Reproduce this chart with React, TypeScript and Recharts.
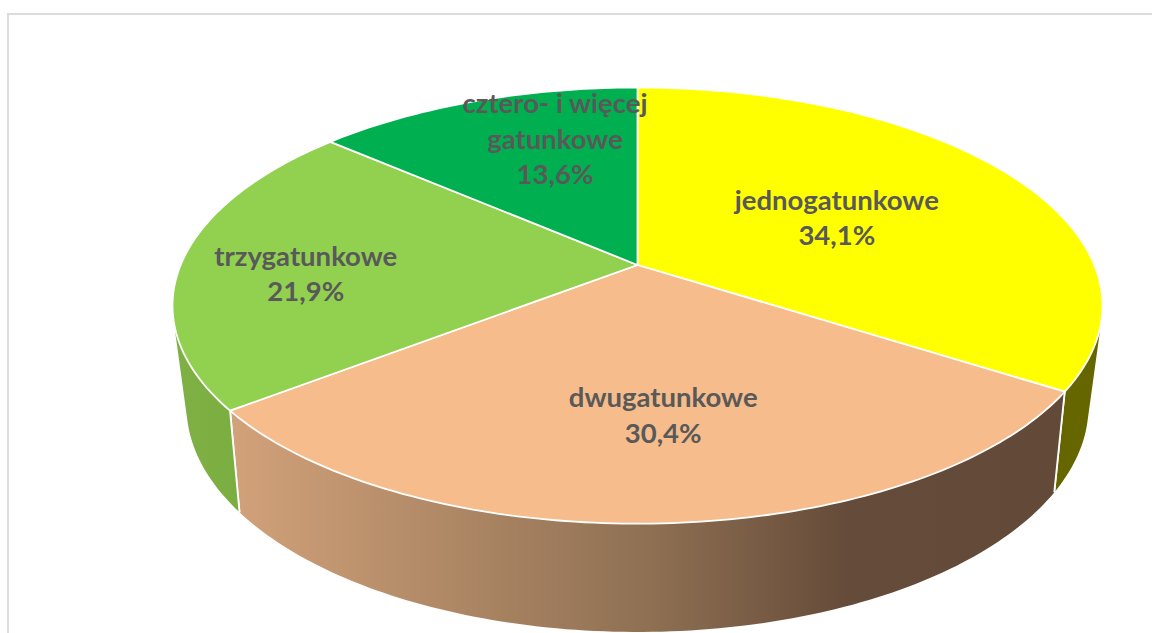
import React from "react";
import { PieChart, Pie } from "recharts";

const categories = ["jednogatunkowe", "dwugatunkowe", "trzygatunkowe", "cztero- i więcej\ngatunkowe"];
const shares = [34.1, 30.4, 21.9, 13.6];
const topColors = ["#FFFF00", "#F6BC8B", "#92D050", "#00B050"];
const wallColors = ["#666600", "url(#wallPeach)", "url(#wallGreen)", "#00702F"];
const labelRadiusFactor = [0.52, 0.63, 0.722, 0.69];
const labelAngleShift = [0, -2, -4.6, 7.4];
const labelLift = [2, 0, 0, -3];

const table = categories.map((name, i) => ({ name, value: shares[i], fill: topColors[i], wall: wallColors[i] }));

// perspective projection of the flat pie onto the tilted top and bottom faces
const project = (cx: number, cy: number, r: number, clockDeg: number, rho: number, face: "top" | "bottom") => {
  const t = (clockDeg * Math.PI) / 180;
  const x = Math.sin(t) * rho;
  const y = -Math.cos(t) * rho;
  const top = face === "top";
  const a = top ? 0.186 : 0.2;
  const rx = top ? r : r * 0.97;
  const ry = r * (top ? 0.469 : 0.486);
  const cey = cy + (top ? r * 0.0873 : r * 0.3032);
  const d = 1 - a * y;
  return [cx + (rx * x * Math.sqrt(1 - a * a)) / d, cey + (ry * (y - a)) / d];
};

const arc = (p: any, face: "top" | "bottom") => {
  const s = 90 - p.startAngle;
  const e = 90 - p.endAngle;
  const n = Math.max(2, Math.ceil(Math.abs(e - s)));
  const pts: number[][] = [];
  for (let i = 0; i <= n; i++) pts.push(project(p.cx, p.cy, p.outerRadius, s + ((e - s) * i) / n, 1, face));
  return pts;
};

const toPath = (pts: number[][]) => pts.map((q, i) => `${i ? "L" : "M"}${q[0].toFixed(2)} ${q[1].toFixed(2)}`).join(" ");

const signedArea = (q: number[][]) =>
  q.reduce((sum, a, i) => {
    const b = q[(i + 1) % q.length];
    return sum + a[0] * b[1] - b[0] * a[1];
  }, 0);

const TopFace = (p: any) => {
  const pts = [[p.cx, p.cy], ...arc(p, "top")];
  return <path d={toPath(pts) + " Z"} fill={p.fill} stroke="#FFFFFF" strokeWidth={1.8} strokeLinejoin="round" />;
};

const WallFace = (p: any) => {
  const t = arc(p, "top");
  const b = arc(p, "bottom");
  const wall = (p.payload ?? p).wall ?? p.wall;
  // union of the quads swept between the two faces, all wound the same way
  const quads: string[] = [];
  for (let i = 0; i < t.length - 1; i++) {
    const q = [t[i], t[i + 1], b[i + 1], b[i]];
    if (signedArea(q) < 0) q.reverse();
    quads.push(toPath(q) + " Z");
  }
  return (
    <g>
      <path d={quads.join(" ")} fill={wall} fillRule="nonzero" />
      <path d={toPath([t[0], b[0]])} stroke="#FFFFFF" strokeWidth={1.8} fill="none" />
      <path d={toPath([t[t.length - 1], b[b.length - 1]])} stroke="#FFFFFF" strokeWidth={1.8} fill="none" />
    </g>
  );
};

const FaceLabel = (p: any) => {
  const i = p.index;
  const clock = 90 - p.midAngle + labelAngleShift[i];
  const [x, y] = project(p.cx, p.cy, p.outerRadius, clock, labelRadiusFactor[i], "top");
  const lines = [...String(p.name).split("\n"), `${shares[i].toFixed(1).replace(".", ",")}%`];
  const step = 35.5;
  const first = y + labelLift[i] - ((lines.length - 1) * step) / 2;
  return (
    <text x={x} textAnchor="middle" fontFamily="Lato" fontWeight={700} fontSize={27.5} fill="#595959">
      {lines.map((l, k) => (
        <tspan key={k} x={x} y={first + k * step} dominantBaseline="central">
          {l}
        </tspan>
      ))}
    </text>
  );
};

export default function App() {
  return (
    <div style={{ position: "absolute", left: 0, top: 0, width: 1152, height: 633, overflow: "hidden", background: "#FFFFFF" }}>
      <div
        style={{
          position: "absolute",
          left: 7,
          top: 13,
          width: 1145,
          height: 620,
          boxSizing: "border-box",
          borderLeft: "2px solid #DCDCDC",
          borderTop: "2px solid #DCDCDC",
        }}
      />
      <div style={{ position: "absolute", left: 0, top: 0 }}>
        <PieChart width={1152} height={633} margin={{ top: 0, right: 0, bottom: 0, left: 0 }}>
          <defs>
            <linearGradient id="wallPeach" x1="0" y1="0" x2="1" y2="0">
              <stop offset="0" stopColor="#D2A27A" />
              <stop offset="0.5" stopColor="#8F7053" />
              <stop offset="0.74" stopColor="#654B39" />
              <stop offset="1" stopColor="#634A38" />
            </linearGradient>
            <linearGradient id="wallGreen" x1="0" y1="0" x2="1" y2="0">
              <stop offset="0" stopColor="#7FB044" />
              <stop offset="1" stopColor="#74AB3D" />
            </linearGradient>
          </defs>
          <Pie
            data={table}
            dataKey="value"
            nameKey="name"
            cx={637.5}
            cy={265}
            outerRadius={465}
            startAngle={90}
            endAngle={-270}
            stroke="none"
            shape={WallFace}
            label={false}
            labelLine={false}
            isAnimationActive={false}
          />
          <Pie
            data={table}
            dataKey="value"
            nameKey="name"
            cx={637.5}
            cy={265}
            outerRadius={465}
            startAngle={90}
            endAngle={-270}
            shape={TopFace}
            label={FaceLabel}
            labelLine={false}
            isAnimationActive={false}
          />
        </PieChart>
      </div>
    </div>
  );
}
